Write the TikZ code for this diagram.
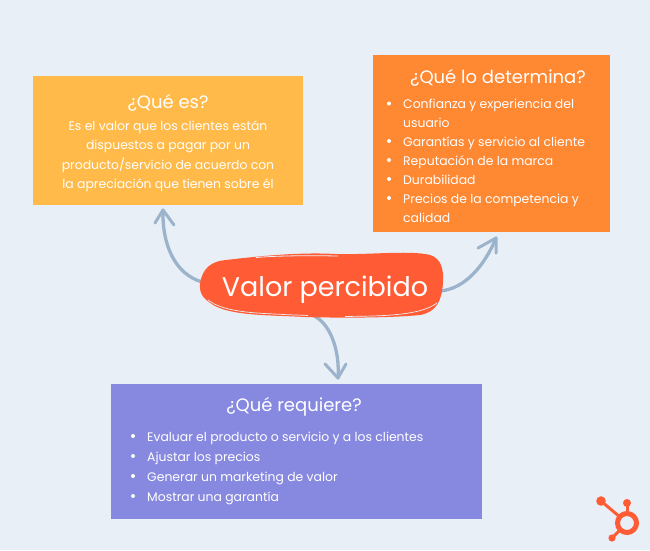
\documentclass[tikz,border=0pt]{standalone}
\usepackage{fontspec}
\setmainfont{Poppins}
\definecolor{bgc}{HTML}{E9EFF7}
\definecolor{yel}{HTML}{FFBA4A}
\definecolor{ora}{HTML}{FF8833}
\definecolor{pur}{HTML}{8789E0}
\definecolor{red}{HTML}{FF5C35}
\definecolor{arr}{HTML}{9CB4CB}
\tikzset{
 box/.style={anchor=north west,inner sep=0pt,outer sep=0pt},
 title/.style={anchor=base,text=white,inner sep=0pt,font=\fontsize{18}{18}\selectfont},
 cline/.style={anchor=base,text=white,inner sep=0pt,font=\fontsize{12.4}{12.4}\selectfont},
 lline/.style={anchor=base west,text=white,inner sep=0pt,font=\fontsize{12.4}{12.4}\selectfont},
 bul/.style={fill=white,circle,inner sep=0pt,minimum size=4pt},
 conn/.style={arr,line width=3.3pt,line cap=round,line join=round},
 head/.style={arr,line width=3pt,line cap=round,line join=round},
 logo/.style={draw=red,line cap=round},
}
\begin{document}
\begin{tikzpicture}[x=1pt,y=-1pt]
\useasboundingbox[fill=bgc] (0,0) rectangle (650,550);
% boxes
\node[box,fill=yel,minimum width=270pt,minimum height=129pt] (yb) at (33,76) {};
\node[box,fill=ora,minimum width=237pt,minimum height=177pt] (ob) at (373,55) {};
\node[box,fill=pur,minimum width=371pt,minimum height=135pt] (pb) at (111,384) {};
% connector ends
\coordinate (aL) at (163,210);
\coordinate (aR) at (496,238);
\coordinate (aD) at (338,378);
\coordinate (sL) at (202,282);
\coordinate (sR) at (440,291);
\coordinate (sD) at (312,315);
\draw[conn] (sL) .. controls (175,274) and (162,245) .. (aL);
\draw[head] (155,223) -- (aL) -- (174,225);
\draw[conn] (sR) .. controls (465,289) and (485,265) .. (aR);
\draw[head] (478,248) -- (aR) -- (496,253);
\draw[conn] (sD) .. controls (330,322) and (340,350) .. (aD);
\draw[head] (325,364) -- (aD) -- (346,364);
% blob
\fill[red] (200,284) .. controls (202,268) and (212,261) .. (226,260)
 .. controls (260,256) and (300,252) .. (335,254)
 .. controls (370,255) and (410,250) .. (430,255)
 .. controls (441,258) and (444,270) .. (443,282)
 .. controls (442,300) and (437,312) .. (420,315)
 .. controls (390,318) and (340,318) .. (305,317)
 .. controls (270,315) and (235,316) .. (215,306)
 .. controls (205,300) and (199,295) .. (200,284) -- cycle;
\draw[bgc,line width=.8pt] (256,257.5) .. controls (280,255.5) and (310,255.5) .. (338,256);
\draw[bgc,line width=.7pt] (208,300) .. controls (222,311) and (250,313) .. (275,314) .. controls (290,315) and (300,315) .. (308,315.5);
\draw[bgc,line width=.7pt] (345,316.5) .. controls (380,316) and (420,316) .. (437,303);
\node[anchor=base,text=white,inner sep=0pt,font=\fontsize{27}{27}\selectfont] (vp) at (325,296) {Valor percibido};
% yellow text
\node[title] (y0) at (168,108) {¿Qué es?};
\node[cline] (y1) at (168,130) {Es el valor que los clientes están};
\node[cline] (y2) at (168,149) {dispuestos a pagar por un};
\node[cline] (y3) at (168,169) {producto/servicio de acuerdo con};
\node[cline] (y4) at (168,188) {la apreciación que tienen sobre él};
% orange text
\node[title] (o0) at (498,83) {¿Qué lo determina?};
\node[lline] (o1) at (403,108) {Confianza y experiencia del};
\node[lline] (o2) at (403,127) {usuario};
\node[lline] (o3) at (403,146) {Garantías y servicio al cliente};
\node[lline] (o4) at (403,165) {Reputación de la marca};
\node[lline] (o5) at (403,184) {Durabilidad};
\node[lline] (o6) at (403,203) {Precios de la competencia y};
\node[lline] (o7) at (403,222) {calidad};
\foreach \n/\y in {a/103.5,b/141,c/160,d/179,e/198}{\node[bul] (ob\n) at (389,\y) {};}
% purple text
\node[title] (p0) at (294,411) {¿Qué requiere?};
\node[lline] (p1) at (147,441) {Evaluar el producto o servicio y a los clientes};
\node[lline] (p2) at (147,461) {Ajustar los precios};
\node[lline] (p3) at (147,481) {Generar un marketing de valor};
\node[lline] (p4) at (147,501) {Mostrar una garantía};
\foreach \n/\y in {a/436,b/456,c/476,d/496}{\node[bul] (pb\n) at (133,\y) {};}
% logo
\coordinate (lc) at (627,523);
\draw[logo,line width=3pt] (601,501) -- (lc);
\draw[logo,line width=3pt] (627,503) -- (lc);
\draw[logo,line width=3pt] (612,538) -- (lc);
\fill[bgc] (lc) circle (9);
\draw[logo,line width=5pt] (lc) circle (9.5);
\fill[red] (601,501) circle (4.8);
\fill[red] (627,503) circle (4);
\fill[red] (612,538) circle (3.6);
\end{tikzpicture}
\end{document}
